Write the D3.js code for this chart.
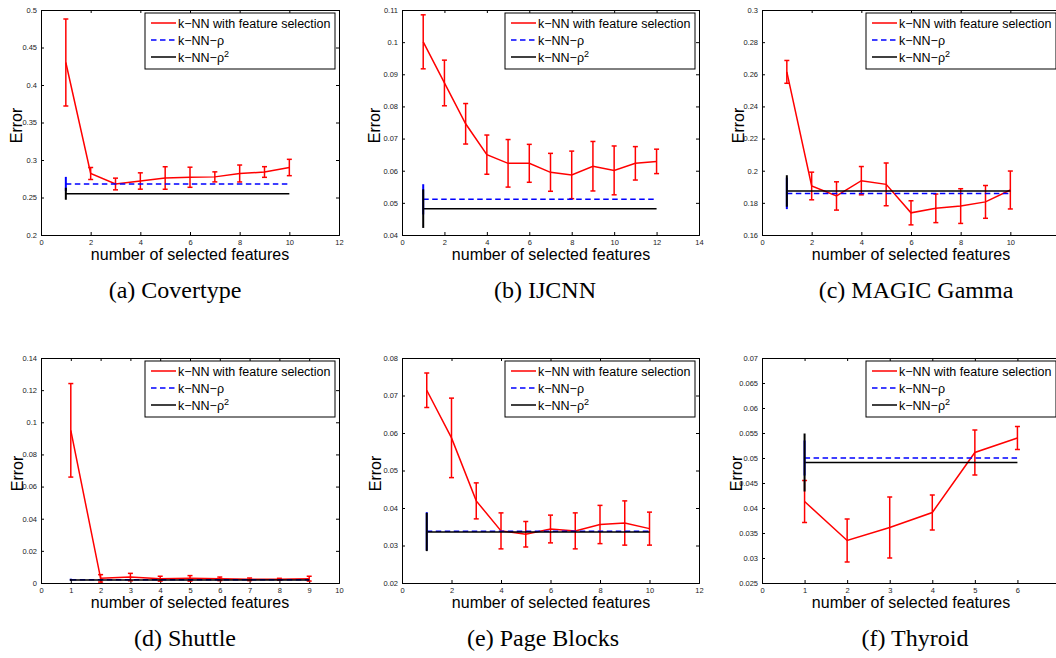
<!DOCTYPE html>
<html>
<head>
<meta charset="utf-8">
<script src="https://cdn.jsdelivr.net/npm/d3@7"></script>
<style>
  body { margin: 0; background: #fff; }
  text { font-family: "Liberation Sans", Arial, Helvetica, sans-serif; }
  .caption { font-family: "Liberation Serif", "Times New Roman", serif; }
</style>
</head>
<body>
<svg id="fig" width="1056" height="658"></svg>
<script>

// ---- data ----

const captions = ['(a) Covertype', '(b) IJCNN', '(c) MAGIC Gamma', '(d) Shuttle', '(e) Page Blocks', '(f) Thyroid']
const legendLabels = ['k\u2212NN with feature selection', 'k\u2212NN\u2212\u03c1', 'k\u2212NN\u2212\u03c1']

// (a) Covertype
const featA = [1, 2, 3, 4, 5, 6, 7, 8, 9, 10]
const meanA = [0.430, 0.282, 0.268, 0.272, 0.276, 0.277, 0.2775, 0.282, 0.284, 0.290]
const errA = [0.058, 0.008, 0.0078, 0.0109, 0.015, 0.0134, 0.0067, 0.0113, 0.0071, 0.0109]
const rhoA = [0.268, 0.0095]
const rho2A = [0.255, 0.008]
const xTicksA = [0, 2, 4, 6, 8, 10, 12]
const yTicksA = [0.2, 0.25, 0.3, 0.35, 0.4, 0.45, 0.5]

// (b) IJCNN
const featB = [1, 2, 3, 4, 5, 6, 7, 8, 9, 10, 11, 12]
const meanB = [0.1001, 0.0873, 0.0746, 0.0650, 0.0623, 0.0623, 0.0595, 0.0587, 0.0614, 0.0601, 0.0623, 0.0629]
const errB = [0.0084, 0.0071, 0.0063, 0.0061, 0.0074, 0.0059, 0.0059, 0.0074, 0.0077, 0.0076, 0.0052, 0.0038]
const rhoB = [0.0511, 0.0047]
const rho2B = [0.0482, 0.0060]
const xTicksB = [0, 2, 4, 6, 8, 10, 12, 14]
const yTicksB = [0.04, 0.05, 0.06, 0.07, 0.08, 0.09, 0.1, 0.11]

// (c) MAGIC Gamma
const featC = [1, 2, 3, 4, 5, 6, 7, 8, 9, 10]
const meanC = [0.2615, 0.1905, 0.1843, 0.1938, 0.1915, 0.1738, 0.1766, 0.1780, 0.1806, 0.1880]
const errC = [0.0071, 0.0086, 0.0088, 0.0088, 0.0133, 0.0075, 0.0089, 0.0108, 0.0102, 0.0118]
const rhoC = [0.1859, 0.0098]
const rho2C = [0.1874, 0.0098]
const xTicksC = [0, 2, 4, 6, 8, 10, 12]
const yTicksC = [0.16, 0.18, 0.2, 0.22, 0.24, 0.26, 0.28, 0.3]

// (d) Shuttle
const featD = [1, 2, 3, 4, 5, 6, 7, 8, 9]
const meanD = [0.0950, 0.0029, 0.0037, 0.0027, 0.0029, 0.0026, 0.0023, 0.0023, 0.0027]
const errD = [0.0291, 0.0023, 0.0023, 0.0015, 0.0017, 0.0011, 0.0008, 0.0006, 0.0015]
const rhoD = [0.0021, 0.0006]
const rho2D = [0.0019, 0.0006]
const xTicksD = [0, 1, 2, 3, 4, 5, 6, 7, 8, 9, 10]
const yTicksD = [0, 0.02, 0.04, 0.06, 0.08, 0.1, 0.12, 0.14]

// (e) Page Blocks
const featE = [1, 2, 3, 4, 5, 6, 7, 8, 9, 10]
const meanE = [0.0714, 0.0587, 0.0419, 0.0339, 0.0330, 0.0344, 0.0339, 0.0356, 0.0360, 0.0345]
const errE = [0.0046, 0.0106, 0.0048, 0.0048, 0.0034, 0.0037, 0.0048, 0.0051, 0.0059, 0.0044]
const rhoE = [0.0338, 0.0051]
const rho2E = [0.0336, 0.0051]
const xTicksE = [0, 2, 4, 6, 8, 10, 12]
const yTicksE = [0.02, 0.03, 0.04, 0.05, 0.06, 0.07, 0.08]

// (f) Thyroid
const featF = [1, 2, 3, 4, 5, 6]
const meanF = [0.0413, 0.0335, 0.0361, 0.0391, 0.0511, 0.0540]
const errF = [0.0042, 0.0043, 0.0061, 0.0035, 0.0045, 0.0023]
const rhoF = [0.0500, 0.0035]
const rho2F = [0.0491, 0.0058]
const xTicksF = [0, 1, 2, 3, 4, 5, 6, 7]
const yTicksF = [0.025, 0.03, 0.035, 0.04, 0.045, 0.05, 0.055, 0.06, 0.065, 0.07]


// ---- layout ----

let panels = [
	{feat: featA, mean: meanA, err: errA, rho: rhoA, rho2: rho2A, xt: xTicksA, yt: yTicksA, left: 41, top: 10, w: 298, ylab: 22, cap: 175},
	{feat: featB, mean: meanB, err: errB, rho: rhoB, rho2: rho2B, xt: xTicksB, yt: yTicksB, left: 402, top: 10, w: 297, ylab: 380, cap: 545},
	{feat: featC, mean: meanC, err: errC, rho: rhoC, rho2: rho2C, xt: xTicksC, yt: yTicksC, left: 762, top: 10, w: 298, ylab: 744, cap: 916},
	{feat: featD, mean: meanD, err: errD, rho: rhoD, rho2: rho2D, xt: xTicksD, yt: yTicksD, left: 41, top: 358, w: 298, ylab: 23, cap: 185},
	{feat: featE, mean: meanE, err: errE, rho: rhoE, rho2: rho2E, xt: xTicksE, yt: yTicksE, left: 402, top: 358, w: 297, ylab: 381, cap: 543},
	{feat: featF, mean: meanF, err: errF, rho: rhoF, rho2: rho2F, xt: xTicksF, yt: yTicksF, left: 762, top: 358, w: 298, ylab: 742, cap: 915}
]

const plotH = 225
const red = '#ff0000'
const blue = '#0000ff'
const dash = '5.5,3.5'
const tickLen = 3
const capW = 2.5

const svg = d3.select('#fig')

svg.append('rect').attr('width', 1056).attr('height', 658).attr('fill', '#fff')

panels.forEach(function(p, i){

	let x = d3.scaleLinear()
		.domain([p.xt[0], p.xt[p.xt.length - 1]])
		.range([p.left, p.left + p.w])

	let y = d3.scaleLinear()
		.domain([p.yt[0], p.yt[p.yt.length - 1]])
		.range([p.top + plotH, p.top])

	let g = svg.append('g')
	let bottom = p.top + plotH
	let right = p.left + p.w

	// axes with inward ticks on all four sides
	let fmt = d => d3.format('~g')(+d.toFixed(4))

	g.append('g')
		.attr('transform', `translate(0,${bottom})`)
		.call(d3.axisBottom(x).tickValues(p.xt).tickSize(-tickLen).tickPadding(5).tickFormat(fmt))
	g.append('g')
		.attr('transform', `translate(0,${p.top})`)
		.call(d3.axisTop(x).tickValues(p.xt).tickSize(-tickLen).tickFormat(''))
	g.append('g')
		.attr('transform', `translate(${p.left},0)`)
		.call(d3.axisLeft(y).tickValues(p.yt).tickSize(-tickLen).tickPadding(4).tickFormat(fmt))
	g.append('g')
		.attr('transform', `translate(${right},0)`)
		.call(d3.axisRight(y).tickValues(p.yt).tickSize(-tickLen).tickFormat(''))

	g.selectAll('.domain').attr('stroke', '#000').attr('stroke-width', 1)
	g.selectAll('.tick line').attr('stroke', '#000')
	g.selectAll('.tick text')
		.attr('font-size', 7.5)
		.attr('fill', '#222')

	// red curve with error bars
	let pts = p.feat.map((f, k) => ({f: f, m: p.mean[k], e: p.err[k]}))

	g.append('path')
		.datum(pts)
		.attr('fill', 'none')
		.attr('stroke', red)
		.attr('stroke-width', 1.5)
		.attr('d', d3.line().x(d => x(d.f)).y(d => y(d.m)))

	let bars = g.selectAll('.ebar')
		.data(pts)
		.enter()
		.append('g')
		.attr('stroke', red)
		.attr('stroke-width', 1.5)

	bars.append('line')
		.attr('x1', d => x(d.f)).attr('x2', d => x(d.f))
		.attr('y1', d => y(d.m - d.e)).attr('y2', d => y(d.m + d.e))
	bars.append('line')
		.attr('x1', d => x(d.f) - capW).attr('x2', d => x(d.f) + capW)
		.attr('y1', d => y(d.m - d.e)).attr('y2', d => y(d.m - d.e))
	bars.append('line')
		.attr('x1', d => x(d.f) - capW).attr('x2', d => x(d.f) + capW)
		.attr('y1', d => y(d.m + d.e)).attr('y2', d => y(d.m + d.e))

	// baselines k-NN-rho (dashed blue) and k-NN-rho^2 (black)
	let f0 = p.feat[0]
	let f1 = p.feat[p.feat.length - 1]

	let baselines = [
		{v: p.rho, color: blue, dash: dash},
		{v: p.rho2, color: '#000', dash: null}
	]

	baselines.forEach(function(b){
		g.append('line')
			.attr('x1', x(f0)).attr('x2', x(f1))
			.attr('y1', y(b.v[0])).attr('y2', y(b.v[0]))
			.attr('stroke', b.color)
			.attr('stroke-width', 1.5)
			.attr('stroke-dasharray', b.dash)
	})
	baselines.forEach(function(b){
		g.append('line')
			.attr('x1', x(f0)).attr('x2', x(f0))
			.attr('y1', y(b.v[0] - b.v[1])).attr('y2', y(b.v[0] + b.v[1]))
			.attr('stroke', b.color)
			.attr('stroke-width', 2)
	})

	// legend
	let lw = 190, lh = 56
	let lx = right - 4 - lw
	let ly = p.top + 3

	let leg = g.append('g').attr('transform', `translate(${lx},${ly})`)

	leg.append('rect')
		.attr('width', lw).attr('height', lh)
		.attr('fill', '#fff').attr('stroke', '#000').attr('stroke-width', 1)

	let styles = [[red, null], [blue, dash], ['#000', null]]
	let rowY = [10, 27, 44]

	legendLabels.forEach(function(lab, k){
		leg.append('line')
			.attr('x1', 6).attr('x2', 31)
			.attr('y1', rowY[k]).attr('y2', rowY[k])
			.attr('stroke', styles[k][0])
			.attr('stroke-width', 1.5)
			.attr('stroke-dasharray', styles[k][1])

		let t = leg.append('text')
			.attr('x', 33)
			.attr('y', rowY[k] + 4.5)
			.attr('font-size', 12.5)
			.attr('fill', '#000')
			.text(lab)

		if (k == 2){
			t.append('tspan')
				.attr('dy', -5)
				.attr('font-size', 9)
				.text('2')
		}
	})

	// axis titles
	g.append('text')
		.attr('transform', `translate(${p.ylab},${p.top + plotH / 2 + 3}) rotate(-90)`)
		.attr('text-anchor', 'middle')
		.attr('font-size', 16)
		.text('Error')

	g.append('text')
		.attr('x', p.left + 149)
		.attr('y', bottom + 25)
		.attr('text-anchor', 'middle')
		.attr('font-size', 16)
		.text('number of selected features')

	// sub-figure caption
	svg.append('text')
		.attr('class', 'caption')
		.attr('x', p.cap)
		.attr('y', p.top + 288)
		.attr('text-anchor', 'middle')
		.attr('font-size', 24)
		.text(captions[i])
})

</script>
</body>
</html>
